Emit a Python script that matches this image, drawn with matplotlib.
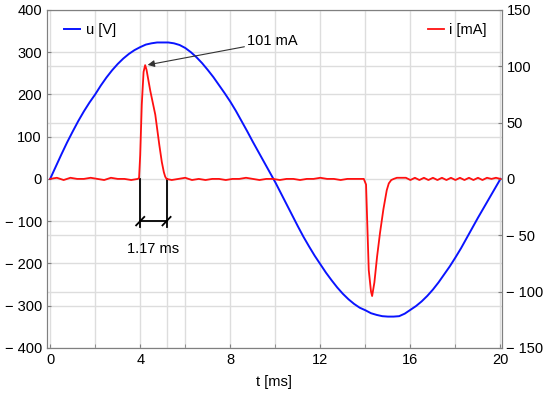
import numpy as np
import matplotlib
matplotlib.use('Agg')
import matplotlib.pyplot as plt
from matplotlib.ticker import FuncFormatter

plt.rcParams['font.family'] = ['Liberation Sans', 'DejaVu Sans']
plt.rcParams['font.size'] = 10.5

# voltage u [V], read every 0.25 ms
u_t = [0, 0.25, 0.5, 0.75, 1.0, 1.25, 1.5, 1.75, 2.0, 2.25, 2.5, 2.75, 3.0, 3.25,
       3.5, 3.75, 4.0, 4.25, 4.5, 4.75, 5.0, 5.25, 5.5, 5.75, 6.0, 6.25, 6.5, 6.75,
       7.0, 7.25, 7.5, 7.75, 8.0, 8.25, 8.5, 8.75, 9.0, 9.25, 9.5, 9.75, 10.0, 10.25,
       10.5, 10.75, 11.0, 11.25, 11.5, 11.75, 12.0, 12.25, 12.5, 12.75, 13.0, 13.25,
       13.5, 13.75, 14.0, 14.25, 14.5, 14.75, 15.0, 15.25, 15.5, 15.75, 16.0, 16.25,
       16.5, 16.75, 17.0, 17.25, 17.5, 17.75, 18.0, 18.25, 18.5, 18.75, 19.0, 19.25,
       19.5, 19.75, 20.0]
u_val = [0, 29, 58, 86, 112, 137, 160, 181, 200, 221, 240, 257, 272, 285,
         296, 305, 312, 318, 321, 323, 323, 323, 321, 317, 310, 300, 288, 274,
         258, 241, 222, 203, 183, 161, 137, 113, 88, 64, 40, 16, -8, -34,
         -60, -86, -112, -137, -160, -182, -202, -222, -240, -257, -272, -285,
         -296, -305, -311, -318, -322, -325, -326, -326, -325, -319, -310, -301,
         -290, -277, -262, -245, -226, -207, -186, -164, -140, -116, -92, -69,
         -46, -23, 0]

# current i [mA]
i_t = [0, 0.3, 0.6, 0.9, 1.2, 1.5, 1.8, 2.1, 2.4, 2.7, 3.0, 3.3, 3.6, 3.9,
       3.95, 4.0, 4.07, 4.15, 4.22, 4.28, 4.45, 4.67, 4.85, 4.96, 5.05, 5.11, 5.17,
       5.4, 5.7, 6.0, 6.3, 6.6, 6.9, 7.2, 7.5, 7.8, 8.1, 8.4, 8.7, 9.0, 9.3, 9.6, 9.9,
       10.2, 10.5, 10.8, 11.1, 11.4, 11.7, 12.0, 12.3, 12.6, 12.9, 13.2, 13.5, 13.8, 13.93,
       14.03, 14.15, 14.25, 14.3, 14.4, 14.52, 14.65, 14.8, 14.95, 15.04, 15.15, 15.26,
       15.4, 15.6, 15.8, 16.0, 16.2, 16.4, 16.6, 16.8, 17.0, 17.2, 17.4, 17.6, 17.8,
       18.0, 18.2, 18.4, 18.6, 18.8, 19.0, 19.2, 19.4, 19.6, 19.8, 20.0]
i_val = [0, 1, -1, 1, 0, 0, 1, 0, -1, 1, 0, 0, -1, 0,
         1, 21, 66, 95, 101, 97, 78, 57, 30, 15, 6, 2, 0,
         -1, 0, 1, -1, 0, -1, 0, 0, -1, 0, 0, 1, 0, -1, 0, 0,
         -1, 0, 0, -1, 0, 0, 1, 0, 0, -1, 0, 0, 0, 0,
         -5, -81, -100, -104, -92, -69, -48, -27, -10, -4, -1, 0,
         1, 1, 1, -1, 1, -1, 1, -1, 1, -1, 1, -1, 1,
         -1, 1, -1, 1, -1, 1, -1, 1, 0, 1, 0]

peak_t, peak_i = 4.22, 101
pulse_start, pulse_width = 4.0, 1.17

u_ticks = [-400, -300, -200, -100, 0, 100, 200, 300, 400]
i_ticks = [-150, -100, -50, 0, 50, 100, 150]
t_ticks = [0, 4, 8, 12, 16, 20]


def fmt(v, pos):
    v = int(round(v))
    return '\u2212 %d' % -v if v < 0 else '%d' % v


fig = plt.figure(figsize=(5.5, 3.98), dpi=100)
ax = fig.add_axes([0.085, 0.126, 0.827, 0.849])
ax2 = ax.twinx()

gc = '#dddddd'
# grid for both y scales and 2 ms steps
ax.set_yticks(u_ticks)
ax.set_yticks([v * 400 / 150 for v in i_ticks if v % 150 != 0], minor=True)
ax.set_xticks(t_ticks)
ax.set_xticks([2, 6, 10, 14, 18], minor=True)
ax.grid(True, which='both', color=gc, lw=1)
ax.axvline(pulse_start + pulse_width, color=gc, lw=1, zorder=0.5)
ax.set_axisbelow(True)

ax.plot(u_t, u_val, color='#0a14ff', lw=1.4, label='u [V]')
ax2.plot(i_t, i_val, color='#ff1010', lw=1.3, label='i [mA]')

ax.set_xlim(-0.15, 20.05)
ax.set_ylim(-400, 400)
ax2.set_ylim(-150, 150)
ax2.set_yticks(i_ticks)
ax.yaxis.set_major_formatter(FuncFormatter(fmt))
ax2.yaxis.set_major_formatter(FuncFormatter(fmt))

for a in (ax, ax2):
    for s in a.spines.values():
        s.set_color('#808080')
    a.tick_params(which='major', direction='in', length=3, color='#808080', labelsize=10.5)
    a.tick_params(which='minor', direction='in', length=3, color='#808080')
ax.tick_params(axis='y', which='minor', length=0)
ax.set_xlabel('t [ms]', fontsize=10.5, labelpad=6)

# pulse width marker (left axis units)
t0, t1 = pulse_start, pulse_start + pulse_width
ax.plot([t0, t0], [0, -115], color='black', lw=1.3)
ax.plot([t1, t1], [0, -115], color='black', lw=1.3)
ax.plot([t0, t1], [-100, -100], color='black', lw=1.3)
for tt in (t0, t1):
    ax.plot([tt - 0.18, tt + 0.18], [-110, -90], color='black', lw=1.3)
ax.text((t0 + t1) / 2, -150, '%.2f ms' % pulse_width, ha='center', va='top', fontsize=10.5)

ax2.annotate('%d mA' % peak_i, xy=(peak_t + 0.05, peak_i), xytext=(8.75, 122),
             ha='left', va='center', fontsize=10.5,
             arrowprops=dict(arrowstyle='-|>', color='#333333', lw=0.8,
                             shrinkA=0, shrinkB=1, mutation_scale=10))

ax.legend(loc='upper left', frameon=False, handlelength=1.1, handletextpad=0.35,
          fontsize=10.5, bbox_to_anchor=(0.01, 1.0))
ax2.legend(loc='upper right', frameon=False, handlelength=1.1, handletextpad=0.35,
           fontsize=10.5, bbox_to_anchor=(0.995, 1.0))

fig.savefig('out.png', dpi=100)
